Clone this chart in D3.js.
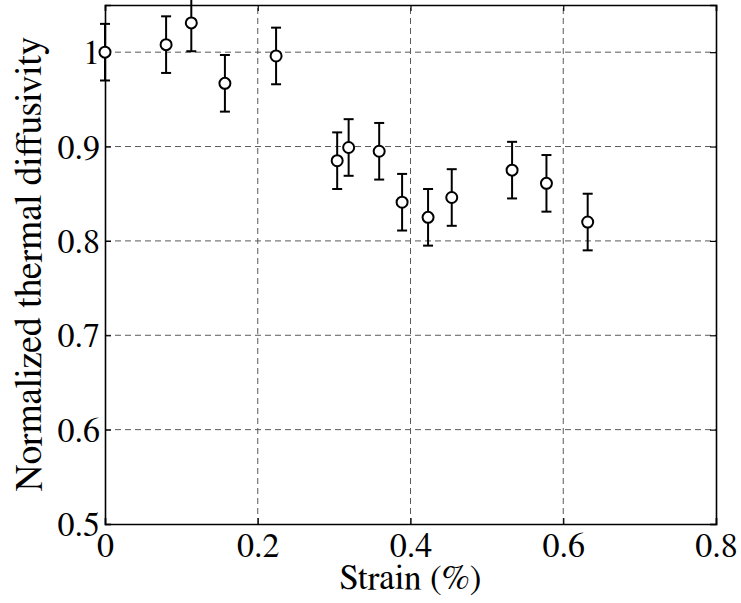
<!DOCTYPE html>
<html>
<head>
<meta charset="utf-8">
<script src="https://cdn.jsdelivr.net/npm/d3@7"></script>
<style>
  body { margin: 0; background: #fff; }
</style>
</head>
<body>
<div id="chart"></div>
<script>
// Data
const strain = [0.0, 0.080, 0.113, 0.157, 0.224, 0.304, 0.319, 0.359, 0.389, 0.423, 0.454, 0.533, 0.578, 0.632];
const diffusivity = [1.000, 1.008, 1.031, 0.967, 0.996, 0.885, 0.899, 0.895, 0.841, 0.825, 0.846, 0.875, 0.861, 0.820];
const errors = [0.03, 0.03, 0.03, 0.03, 0.03, 0.03, 0.03, 0.03, 0.03, 0.03, 0.03, 0.03, 0.03, 0.03];
const xTicks = [0, 0.2, 0.4, 0.6, 0.8];
const yTicks = [0.5, 0.6, 0.7, 0.8, 0.9, 1.0];

const width = 741;
const height = 603;
const margin = { top: 5, right: 25, bottom: 79, left: 105 };
const serif = "\"FreeSerif\"";

const svg = d3.select("#chart")
    .append("svg")
    .attr("width", width)
    .attr("height", height);

const x = d3.scaleLinear()
    .domain([0, 0.8])
    .range([margin.left, width - margin.right]);

const y = d3.scaleLinear()
    .domain([0.5, 1.05])
    .range([height - margin.bottom, margin.top]);

// Grid lines (dashed)
svg.append("g")
    .selectAll("line")
    .data(xTicks.filter(d => d > 0 && d < 0.8))
    .join("line")
    .attr("x1", d => x(d)).attr("x2", d => x(d))
    .attr("y1", y(0.5)).attr("y2", y(1.05))
    .attr("stroke", "#5a5a5a")
    .attr("stroke-width", 1)
    .attr("stroke-dasharray", "6,4");

svg.append("g")
    .selectAll("line")
    .data(yTicks.filter(d => d > 0.5))
    .join("line")
    .attr("x1", x(0)).attr("x2", x(0.8))
    .attr("y1", d => y(d)).attr("y2", d => y(d))
    .attr("stroke", "#5a5a5a")
    .attr("stroke-width", 1)
    .attr("stroke-dasharray", "6,4");

// Axes with inward ticks
const tickLen = 6;
const fmt = d => d === 0 ? "0" : (d === 1 ? "1" : d3.format(".1f")(d));

const xAxis = svg.append("g")
    .attr("transform", `translate(0,${y(0.5)})`)
    .call(d3.axisBottom(x).tickValues(xTicks).tickSize(-tickLen).tickPadding(10).tickFormat(fmt));
const xAxisTop = svg.append("g")
    .attr("transform", `translate(0,${y(1.05)})`)
    .call(d3.axisTop(x).tickValues(xTicks).tickSize(-tickLen).tickFormat(""));
const yAxis = svg.append("g")
    .attr("transform", `translate(${x(0)},0)`)
    .call(d3.axisLeft(y).tickValues(yTicks).tickSize(-tickLen).tickPadding(5).tickFormat(fmt));
const yAxisRight = svg.append("g")
    .attr("transform", `translate(${x(0.8)},0)`)
    .call(d3.axisRight(y).tickValues(yTicks).tickSize(-tickLen).tickFormat(""));

[xAxis, xAxisTop, yAxis, yAxisRight].forEach(g => {
    g.attr("font-family", null).attr("font-size", null);
    g.select(".domain").attr("stroke", "#000").attr("stroke-width", 1.6);
    g.selectAll(".tick line").attr("stroke", "#000").attr("stroke-width", 1.2);
    g.selectAll("text")
        .style("font-family", serif)
        .style("font-size", "34px")
        .attr("fill", "#000");
});
xAxis.selectAll("text").attr("dy", "0.68em");
yAxis.selectAll("text").attr("dy", "0.34em");

// Error bars
const capHalf = 5;
const points = strain.map((s, i) => ({ s, v: diffusivity[i], e: errors[i] }));

const bars = svg.append("g")
    .attr("stroke", "#000")
    .attr("stroke-width", 2);

bars.selectAll(".vline")
    .data(points)
    .join("line")
    .attr("class", "vline")
    .attr("x1", d => x(d.s)).attr("x2", d => x(d.s))
    .attr("y1", d => y(d.v - d.e)).attr("y2", d => y(d.v + d.e));

bars.selectAll(".capTop")
    .data(points)
    .join("line")
    .attr("class", "capTop")
    .attr("x1", d => x(d.s) - capHalf).attr("x2", d => x(d.s) + capHalf)
    .attr("y1", d => y(d.v + d.e)).attr("y2", d => y(d.v + d.e));

bars.selectAll(".capBot")
    .data(points)
    .join("line")
    .attr("class", "capBot")
    .attr("x1", d => x(d.s) - capHalf).attr("x2", d => x(d.s) + capHalf)
    .attr("y1", d => y(d.v - d.e)).attr("y2", d => y(d.v - d.e));

// Markers (open circles)
svg.append("g")
    .selectAll("circle")
    .data(points)
    .join("circle")
    .attr("cx", d => x(d.s))
    .attr("cy", d => y(d.v))
    .attr("r", 5.5)
    .attr("fill", "#fff")
    .attr("stroke", "#000")
    .attr("stroke-width", 2);

// Axis labels
svg.append("text")
    .attr("x", (x(0) + x(0.8)) / 2)
    .attr("y", 589)
    .attr("text-anchor", "middle")
    .style("font-family", serif)
    .style("font-size", "35px")
    .text("Strain (%)");

svg.append("text")
    .attr("transform", `translate(41,${(y(0.5) + y(1.05)) / 2}) rotate(-90)`)
    .attr("text-anchor", "middle")
    .style("font-family", serif)
    .style("font-size", "37.5px")
    .text("Normalized thermal diffusivity");
</script>
</body>
</html>
